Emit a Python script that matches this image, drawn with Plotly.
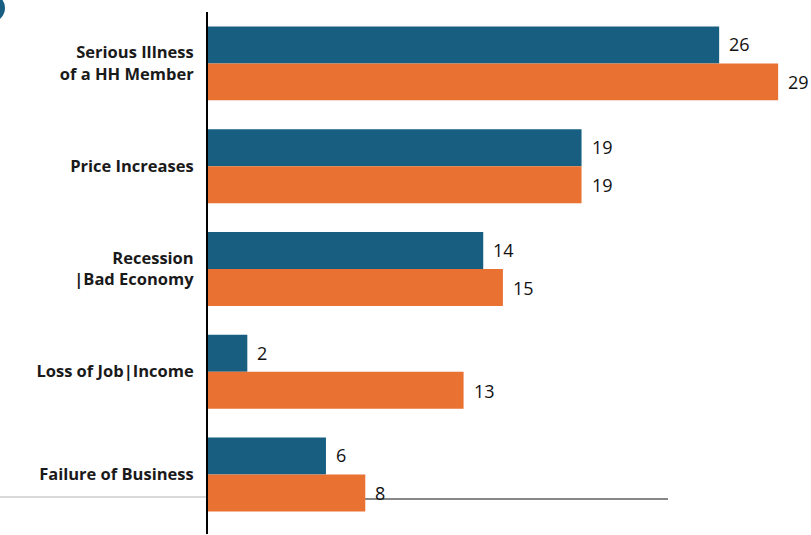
import plotly.graph_objects as go

categories = ["Serious Illness<br>of a HH Member", "Price Increases", "Recession<br>|Bad Economy",
              "Loss of Job|Income", "Failure of Business"]
series_a = [26, 19, 14, 2, 6]
series_b = [29, 19, 15, 13, 8]

BLUE = "#175E80"
ORANGE = "#E97132"

W, H = 811, 535
L, T, B, R = 208, 12, 1, 11
pw = W - L - R
ph = H - T - B
PX_PER_UNIT = 19.66

fig = go.Figure()
fig.add_trace(go.Bar(y=categories, x=series_a, orientation="h", name="A",
                     marker=dict(color=BLUE, line=dict(width=0)), hoverinfo="skip"))
fig.add_trace(go.Bar(y=categories, x=series_b, orientation="h", name="B",
                     marker=dict(color=ORANGE, line=dict(width=0)), hoverinfo="skip"))

annotations = []
for cat, va, vb in zip(categories, series_a, series_b):
    for v, ys in ((va, 19), (vb, -19)):
        annotations.append(dict(x=v, y=cat, xref="x", yref="y", text=str(v),
                                showarrow=False, xanchor="left", yanchor="middle",
                                xshift=8, yshift=ys,
                                font=dict(family="Open Sans", size=18, color="#111111")))

def px2x(p):
    return (p - L) / pw

def px2y(p):
    return (H - B - p) / ph

shapes = [
    dict(type="line", xref="paper", yref="paper", x0=px2x(0), x1=px2x(206),
         y0=px2y(497), y1=px2y(497), line=dict(color="#d9d9d9", width=2)),
    dict(type="line", xref="paper", yref="paper", x0=px2x(208), x1=px2x(668),
         y0=px2y(499), y1=px2y(499), line=dict(color="#111111", width=1.2), layer="below"),
    dict(type="circle", xref="paper", yref="paper", x0=px2x(-23), x1=px2x(5),
         y0=px2y(22), y1=px2y(-6), fillcolor=BLUE, line=dict(width=0)),
]

fig.update_layout(
    width=W, height=H,
    margin=dict(l=L, r=R, t=T, b=B),
    paper_bgcolor="white", plot_bgcolor="white",
    barmode="group", bargap=0.28, bargroupgap=0,
    showlegend=False,
    shapes=shapes,
    annotations=annotations,
    xaxis=dict(range=[0, pw / PX_PER_UNIT], visible=False, showgrid=False, zeroline=False),
    yaxis=dict(range=[4.58, -0.5], showgrid=False, zeroline=False,
               showline=True, linecolor="black", linewidth=2,
               ticks="", ticklabelstandoff=9,
               tickfont=dict(family="Open Sans", size=16.5, color="#1a1a1a", weight="bold")),
)

fig.write_html("out.html", config={"displayModeBar": False},
               post_script="document.body.style.margin='0';document.body.style.overflow='hidden';")
